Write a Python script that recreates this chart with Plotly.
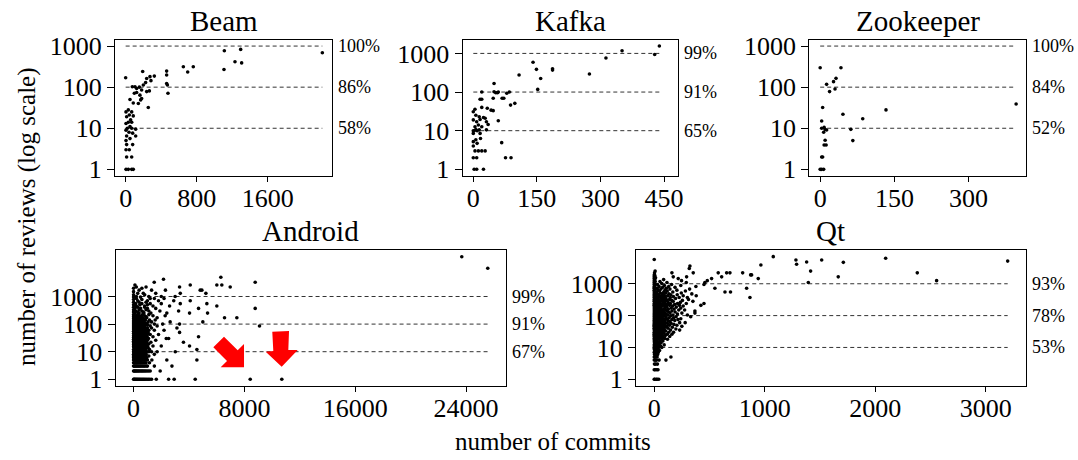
import math
import plotly.graph_objects as go

FONT = "Liberation Serif, Times New Roman, serif"
W, H = 1078, 460

# ---------------- data (commits, reviews) ----------------
beam_points = [(2216, 690), (1112, 770), (1296, 830), (1108, 270), (1232, 417), (1307, 390),
               (650, 315), (699, 234), (762, 315), (462, 246), (462, 198), (462, 123), (470, 113),
               (477, 71), (323, 186), (192, 240), (274, 180), (237, 163), (285, 144), (225, 129),
               (199, 113), (0, 170), (75, 102), (105, 102), (124, 93), (154, 100), (180, 85),
               (237, 78), (267, 81), (124, 74), (98, 71), (161, 64), (180, 53), (169, 49),
               (143, 40), (255, 32), (49, 50), (86, 41), (30, 28), (68, 25), (4, 25), (41, 21),
               (86, 20), (11, 19), (56, 16), (30, 14), (68, 14), (4, 13), (49, 11), (19, 10),
               (68, 10), (113, 9.5), (4, 9), (38, 8), (79, 7.6), (113, 6.5), (11, 6.5), (49, 5.6),
               (4, 5), (79, 4), (11, 4), (41, 3), (4, 3), (11, 2), (68, 2), (4, 1), (30, 1),
               (68, 1), (86, 1)]

kafka_points = [(439, 1550), (428, 940), (351, 1170), (313, 760), (274, 293), (141, 590),
                (149, 387), (187, 370), (187, 400), (159, 225), (152, 117), (108, 275), (49, 167),
                (49, 102), (53, 96), (57, 96), (47, 69), (59, 100), (68, 69), (72, 69), (79, 93),
                (85, 100), (88, 46), (98, 51), (59, 18), (67, 4.9), (76, 2), (89, 2), (20, 100),
                (16, 65), (20, 65), (4, 36), (20, 40), (33, 38), (42, 34), (47, 33), (0, 31),
                (6, 25), (14, 23), (24, 22), (28, 21), (31, 17), (35, 14.5), (0, 19), (8, 17),
                (16, 19.5), (12, 14), (4, 12.6), (0, 10), (2, 10), (6, 10.7), (9, 10), (14, 10.5),
                (20, 12.6), (31, 10.5), (0, 8.5), (16, 8.5), (17, 6.3), (6, 5.8), (0, 5.2),
                (9, 4.7), (0, 4), (4, 3), (12, 3), (20, 3), (28, 3), (0, 2), (8, 2), (2, 1),
                (8, 1), (24, 1)]

zookeeper_points = [(396, 39), (133, 28), (86, 17), (66, 5), (62, 9.4), (46, 22), (42, 297),
                    (32, 164), (27, 136), (30, 90), (13, 117), (19, 78), (0, 297), (5, 32),
                    (3, 15), (3, 10), (8, 10.5), (10, 9.3), (13, 9.1), (7, 8), (10, 5.1),
                    (8, 3.9), (12, 3.9), (3, 2), (5, 2), (0, 1), (3, 1), (7, 1)]

# reviews level -> commit counts of the developers with that many reviews
android_rows = {
    1: [0, 40, 90, 150, 210, 270, 340, 410, 480, 560, 640, 720, 800, 890, 980, 1080, 1180, 1300,
        1640, 2530, 2930, 4450, 8420, 10700],
    2: [0, 50, 110, 170, 240, 310, 380, 460, 540, 620, 700, 790, 880, 980, 1090, 1200, 1920],
    3: [0, 60, 130, 200, 270, 350, 430, 520, 610, 700, 800, 900, 1000, 1500, 2770],
    4: [0, 70, 150, 230, 310, 400, 490, 580, 680, 790, 900, 1150],
    5: [0, 50, 120, 190, 270, 350, 440, 530, 630, 740, 860, 1000, 1320, 2400, 4570],
    6: [0, 80, 160, 250, 340, 440, 550, 670, 800, 950],
    7: [0, 60, 140, 220, 310, 400, 500, 610, 730, 880, 1100],
    8: [0, 90, 180, 280, 380, 490, 610, 750, 900, 1500],
    9: [30, 120, 220, 330, 450, 580, 720, 880],
    10: [0, 70, 150, 240, 330, 430, 540, 660, 790, 930, 1100, 1300, 1700, 3010],
    11: [40, 130, 230, 340, 460, 590, 740, 900],
    12: [0, 90, 190, 300, 420, 550, 700, 860, 1150, 4570],
    14: [50, 140, 240, 350, 470, 600, 750, 920, 1050],
    15: [0, 100, 200, 300, 420, 560, 700],
    16: [30, 130, 230, 340, 460, 590, 740, 900, 1400, 2000, 4040],
    18: [0, 80, 180, 290, 400, 520, 660, 820, 1000],
    19: [50, 150, 260, 380, 500, 640, 800, 1100],
    21: [0, 100, 200, 310, 430, 560, 700, 880],
    22: [40, 140, 250, 370, 500, 650, 820, 950, 1250, 3600],
    24: [0, 90, 190, 300, 420, 550, 700, 880],
    26: [40, 140, 250, 370, 500, 640, 800, 1000, 1600],
    28: [0, 100, 210, 330, 460, 600, 760],
    30: [50, 160, 280, 410, 550, 700, 870, 1080, 2360, 2530],
    33: [0, 110, 230, 360, 500, 650, 820],
    35: [60, 180, 310, 450, 600, 770, 980, 1400, 4690],
    38: [0, 120, 250, 390, 540, 700, 880],
    42: [50, 180, 320, 470, 630, 800, 1000, 1200, 1800],
    46: [0, 120, 260, 410, 570, 740],
    50: [60, 200, 350, 510, 680, 880, 1050, 3320],
    55: [0, 130, 280, 440, 610, 800],
    60: [60, 210, 370, 540, 720, 950, 1100, 1500, 2200],
    66: [0, 140, 300, 470, 650, 850],
    72: [80, 240, 410, 590, 780, 1000, 1300, 3130],
    78: [0, 150, 320, 500, 700],
    85: [60, 230, 420, 620, 820, 1200, 1700, 9090],
    92: [0, 160, 350, 550, 760, 1000],
    100: [80, 270, 480, 700, 950, 1500, 2100, 3320],
    110: [0, 180, 380, 600, 850],
    120: [100, 300, 520, 760, 1050, 1300, 2640, 5000],
    130: [0, 200, 420, 680],
    140: [80, 330, 580, 850, 1150, 1560],
    155: [0, 230, 480, 750],
    170: [120, 380, 650, 950, 1700, 6565, 7455],
    185: [0, 260, 560, 900],
    200: [150, 450, 800, 1400, 2280],
    220: [0, 300, 650, 1100],
    250: [100, 400, 750, 1250, 2400, 4040, 5340],
    275: [0, 300, 700],
    300: [150, 600, 1100, 1900, 3250],
    330: [0, 400, 900],
    370: [100, 500, 1000, 1600, 4690, 8778],
    410: [0, 300, 800],
    450: [200, 800, 1400, 2600, 6010],
    500: [0, 450, 1000],
    550: [150, 600, 1200, 2000, 3370, 5290],
    620: [0, 400, 900],
    700: [300, 1000, 1800, 2900, 4090],
    780: [0, 600],
    850: [200, 1200, 1500, 2200],
    950: [0, 500],
    1000: [200, 1100, 2000, 3000],
    1150: [0, 800],
    1300: [300, 700, 1600, 3370, 5220],
    1500: [0],
    1700: [400, 1300, 2300, 4810, 4930],
    2000: [0, 600],
    2200: [200, 900, 3320, 6975],
    2600: [100, 4090, 6010, 6370],
    3300: [1490, 8778],
    4200: [2160],
    5000: [6300],
    10500: [25565],
    27700: [23690],
}

qt_rows = {
    1: [0, 6, 19, 27, 41],
    2: [0, 9, 23, 34],
    3: [2, 14, 29],
    4: [0, 11, 21, 44, 106],
    5: [0, 7, 26, 151],
    6: [3, 17, 31],
    7: [0, 12, 36],
    8: [5, 20, 48],
    9: [0, 15, 28],
    10: [0, 9, 22, 41, 68],
    11: [4, 16, 33, 57],
    12: [0, 13, 27, 46, 90],
    14: [2, 19, 38, 62],
    16: [0, 8, 25, 51, 78],
    18: [3, 14, 32, 70, 120],
    19: [0, 21, 44, 95],
    21: [6, 17, 36, 59, 83],
    22: [0, 11, 28, 52, 140],
    24: [2, 24, 47, 73, 102],
    26: [0, 9, 33, 61, 118, 160],
    28: [4, 19, 40, 88],
    30: [0, 14, 30, 57, 79, 131, 175],
    33: [7, 26, 49, 104],
    35: [0, 12, 38, 66, 92, 148, 230],
    38: [3, 21, 54, 84, 196],
    40: [0, 16, 43, 71, 125],
    43: [5, 28, 61, 99, 164],
    46: [0, 10, 35, 80, 112, 250],
    50: [2, 22, 48, 69, 138, 205],
    53: [0, 17, 39, 94, 178],
    57: [6, 31, 57, 119, 152],
    60: [0, 12, 44, 76, 101, 230, 280],
    65: [3, 25, 52, 87, 141],
    70: [0, 15, 36, 66, 124, 186],
    75: [8, 29, 58, 97, 160, 215],
    80: [0, 20, 47, 83, 113, 240],
    86: [4, 33, 64, 135, 176],
    92: [0, 13, 40, 72, 105, 198, 330],
    98: [6, 26, 55, 90, 150],
    105: [0, 18, 46, 81, 122, 170, 300],
    112: [3, 34, 63, 109, 210],
    120: [0, 11, 41, 74, 96, 143, 250, 368],
    130: [5, 27, 58, 88, 131, 189],
    140: [0, 19, 49, 79, 117, 160, 368],
    150: [8, 37, 68, 104, 222, 275],
    160: [0, 15, 45, 86, 128, 180],
    172: [4, 29, 61, 97, 154, 240],
    185: [0, 22, 52, 114, 200],
    200: [7, 38, 73, 108, 166, 262],
    210: [0, 16, 47, 91, 139, 228, 422],
    225: [3, 31, 65, 120, 185],
    240: [0, 20, 56, 99, 147, 211, 290, 450],
    260: [6, 36, 80, 126, 236],
    280: [0, 14, 48, 93, 171, 350],
    300: [4, 27, 70, 112, 158, 255],
    320: [0, 39, 85, 137, 310],
    345: [8, 23, 62, 106, 193],
    370: [0, 33, 78, 145, 226, 300, 866],
    395: [5, 51, 96, 173],
    420: [0, 18, 66, 121, 262, 380],
    450: [3, 42, 89, 150, 208],
    480: [0, 28, 74, 133, 340],
    515: [6, 55, 104, 245],
    550: [0, 21, 86, 168, 640, 690],
    590: [4, 47, 118, 282],
    630: [0, 35, 97, 205],
    680: [8, 60, 142, 320],
    720: [0, 25, 110, 549, 836],
    770: [3, 76, 188],
    820: [0, 44, 131, 377],
    880: [6, 92, 240],
    950: [0, 30, 157, 450],
    1020: [4, 68],
    1100: [0, 115, 290, 458, 1394],
    1180: [9, 52],
    1250: [0, 247, 480, 2555],
    1350: [5, 85],
    1450: [0, 217, 519, 941],
    1550: [12],
    1650: [0, 172, 293, 610, 1665],
    1800: [6],
    1900: [0, 872, 881],
    2200: [3, 160, 353, 579, 655, 685, 800, 2380],
    2500: [8, 1415],
    3000: [317],
    3600: [323],
    3900: [965],
    4100: [1288],
    4700: [1711],
    4800: [1379],
    5150: [3198],
    5550: [1282, 1515],
    5800: [0],
    6300: [2094],
    7100: [1077],
}

threshold_reviews = [10, 100, 1000]
beam_percent = [58, 86, 100]
kafka_percent = [65, 91, 99]
zookeeper_percent = [52, 84, 100]
android_percent = [67, 91, 99]
qt_percent = [53, 78, 93]

beam_xticks = [0, 800, 1600]
kafka_xticks = [0, 150, 300, 450]
zookeeper_xticks = [0, 150, 300]
android_xticks = [0, 8000, 16000, 24000]
qt_xticks = [0, 1000, 2000, 3000]
review_ticks = [1, 10, 100, 1000]


def from_pairs(points):
    return [p[0] for p in points], [p[1] for p in points]


def from_rows(rows):
    xs, ys = [], []
    for rev, commits in rows.items():
        for c in commits:
            xs.append(c)
            ys.append(rev)
    return xs, ys


def fx(px):
    return px / W


def fy(py):
    return 1 - py / H


panels = [
    dict(name="Beam", data=from_pairs(beam_points), pct=beam_percent, xt=beam_xticks,
         box=(115, 39.5, 332, 175.5), xr=(-120, 2325), yr=(-0.15, 3.16), title_y=21),
    dict(name="Kafka", data=from_pairs(kafka_points), pct=kafka_percent, xt=kafka_xticks,
         box=(462.7, 39.5, 678, 175.5), xr=(-25, 483), yr=(-0.16, 3.36), title_y=21),
    dict(name="Zookeeper", data=from_pairs(zookeeper_points), pct=zookeeper_percent, xt=zookeeper_xticks,
         box=(809.3, 39.5, 1026, 175.5), xr=(-22, 416), yr=(-0.15, 3.16), title_y=21),
    dict(name="Android", data=from_rows(android_rows), pct=android_percent, xt=android_xticks,
         box=(115.7, 250, 505.7, 385.5), xr=(-1290, 26860), yr=(-0.225, 4.685), title_y=231),
    dict(name="Qt", data=from_rows(qt_rows), pct=qt_percent, xt=qt_xticks,
         box=(636, 250, 1025.7, 385.5), xr=(-165, 3361), yr=(-0.195, 4.06), title_y=231),
]

fig = go.Figure()
annotations = []
layout_axes = {}

for i, p in enumerate(panels, start=1):
    s = "" if i == 1 else str(i)
    xs, ys = p["data"]
    lx, ly = [], []
    for lvl in threshold_reviews:
        lx += [0, max(xs), None]
        ly += [lvl, lvl, None]
    fig.add_trace(go.Scatter(x=lx, y=ly, mode="lines", xaxis="x" + s, yaxis="y" + s,
                             line=dict(color="#333333", width=1, dash="4px,3px"),
                             hoverinfo="skip", showlegend=False))
    fig.add_trace(go.Scatter(x=xs, y=ys, mode="markers", xaxis="x" + s, yaxis="y" + s,
                             marker=dict(size=3.6, color="black", line=dict(width=0)),
                             name=p["name"], showlegend=False))
    x0, y0, x1, y1 = p["box"]
    layout_axes["xaxis" + s] = dict(
        domain=[fx(x0), fx(x1)], range=list(p["xr"]), anchor="y" + s,
        tickvals=p["xt"], ticktext=[str(v) for v in p["xt"]],
        ticks="outside", ticklen=5, tickwidth=1.2, tickcolor="black", ticklabelstandoff=-6,
        showline=True, linecolor="black", linewidth=1.3, mirror=True,
        showgrid=False, zeroline=False, automargin=False,
        tickfont=dict(family=FONT, size=26, color="black"))
    layout_axes["yaxis" + s] = dict(
        domain=[fy(y1), fy(y0)], type="log", range=list(p["yr"]), anchor="x" + s,
        tickvals=review_ticks, ticktext=[str(v) for v in review_ticks],
        ticks="outside", ticklen=7, tickwidth=1.2, tickcolor="black",
        showline=True, linecolor="black", linewidth=1.3, mirror=True,
        showgrid=False, zeroline=False, automargin=False,
        tickfont=dict(family=FONT, size=26, color="black"))
    for lvl, pc in zip(threshold_reviews, p["pct"]):
        annotations.append(dict(xref="x" + s + " domain", x=1, xshift=4, xanchor="left",
                                yref="y" + s, y=math.log10(lvl), yanchor="middle",
                                text=f"{pc}%", showarrow=False,
                                font=dict(family=FONT, size=18, color="black")))
    annotations.append(dict(xref="paper", yref="paper", x=fx((x0 + x1) / 2),
                            y=fy(p["title_y"]), xanchor="center", yanchor="middle",
                            text=p["name"], showarrow=False,
                            font=dict(family=FONT, size=29, color="black")))

annotations.append(dict(xref="paper", yref="paper", x=fx(553), y=fy(441),
                        xanchor="center", yanchor="middle", text="number of commits",
                        showarrow=False, font=dict(family=FONT, size=25, color="black")))
annotations.append(dict(xref="paper", yref="paper", x=fx(27), y=fy(217),
                        xanchor="center", yanchor="middle", textangle=-90,
                        text="number of reviews (log scale)",
                        showarrow=False, font=dict(family=FONT, size=25, color="black")))

# red highlight arrows in the Android panel (axis-domain fractions)
arrow_diag = [(0.2503, 0.2819), (0.2777, 0.3601), (0.3128, 0.2598), (0.3290, 0.3063),
              (0.3290, 0.1343), (0.2692, 0.1343), (0.2854, 0.1808)]
arrow_down = [(0.4015, 0.3970), (0.4444, 0.4022), (0.4426, 0.2620), (0.4667, 0.2620),
              (0.4256, 0.1387), (0.3846, 0.2494), (0.4041, 0.2546)]
shapes = []
for poly in (arrow_diag, arrow_down):
    path = "M " + " L ".join(f"{x},{y}" for x, y in poly) + " Z"
    shapes.append(dict(type="path", xref="x4 domain", yref="y4 domain", path=path,
                       fillcolor="#ff0000", line=dict(width=0), layer="above"))

fig.update_layout(
    width=W, height=H, margin=dict(l=0, r=0, t=0, b=0),
    template="none", paper_bgcolor="white", plot_bgcolor="white",
    showlegend=False, annotations=annotations, shapes=shapes,
    font=dict(family=FONT, color="black"),
    **layout_axes)

fig.write_html("out.html", config={"displayModeBar": False},
               post_script="document.body.style.margin='0';document.body.style.overflow='hidden';")
